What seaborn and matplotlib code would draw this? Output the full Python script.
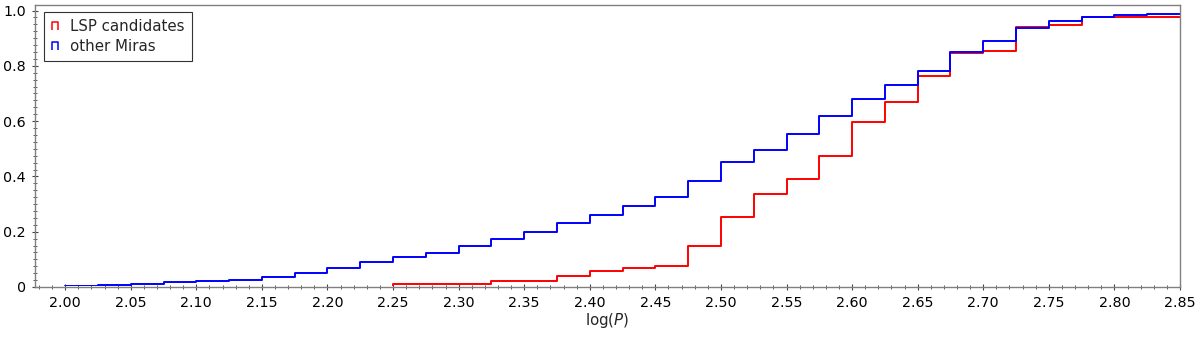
import numpy as np
import pandas as pd
import seaborn as sns
import matplotlib
matplotlib.use("Agg")
import matplotlib.pyplot as plt
from matplotlib.path import Path
from matplotlib.lines import Line2D
from matplotlib.transforms import Bbox, TransformedBbox
from matplotlib.ticker import MultipleLocator, FixedLocator, FuncFormatter, FormatStrFormatter

# ---- data (cumulative fractions per log(P) bin, bin width 0.025) ----
bin_width = 0.025
other_start = 2.000
other_miras = [0.004, 0.007, 0.011, 0.017, 0.022, 0.027, 0.037, 0.049,
               0.068, 0.089, 0.109, 0.123, 0.150, 0.172, 0.200, 0.230,
               0.261, 0.293, 0.324, 0.384, 0.453, 0.494, 0.552, 0.617,
               0.681, 0.730, 0.783, 0.849, 0.890, 0.935, 0.961, 0.976,
               0.983, 0.987]
lsp_start = 2.250
lsp_candidates = [0.012, 0.012, 0.012, 0.020, 0.020, 0.040, 0.059, 0.067,
                  0.075, 0.150, 0.253, 0.337, 0.392, 0.475, 0.595, 0.670,
                  0.764, 0.847, 0.854, 0.940, 0.949, 0.976, 0.976, 0.976]
series_labels = ["LSP candidates", "other Miras"]
series_colors = ["#ff0000", "#0000ff"]
x_ticks = [2.00, 2.05, 2.10, 2.15, 2.20, 2.25, 2.30, 2.35, 2.40, 2.45,
           2.50, 2.55, 2.60, 2.65, 2.70, 2.75, 2.80, 2.85]
y_ticks = [0, 0.2, 0.4, 0.6, 0.8, 1.0]
y_tick_labels = ["0", "0.2", "0.4", "0.6", "0.8", "1.0"]

XMIN, XMAX, YMIN, YMAX = 1.977, 2.85, 0.0, 1.02


def make_frame(start, values):
    # prepend an empty bin so the step rises from zero at the first edge
    n = len(values)
    lefts = start + bin_width * np.arange(-1, n)
    heights = np.concatenate([[0.0], values])
    edges = start + bin_width * np.arange(-1, n + 1)
    return pd.DataFrame({"x": lefts + bin_width / 2, "w": heights}), [float(e) for e in edges]


sns.set_style("white")
plt.rcParams["font.family"] = ["DejaVu Sans"]
plt.rcParams["mathtext.fontset"] = "dejavusans"

fig = plt.figure(figsize=(12, 3.4), dpi=100)
ax = fig.add_axes([35 / 1200, 1 - 287 / 340, (1180 - 35) / 1200, (287 - 5) / 340])

df_r, e_r = make_frame(lsp_start, lsp_candidates)
df_b, e_b = make_frame(other_start, other_miras)

sns.histplot(data=df_r, x="x", weights="w", bins=e_r, element="step",
             fill=False, color=series_colors[0], linewidth=1.4, ax=ax)
sns.histplot(data=df_b, x="x", weights="w", bins=e_b, element="step",
             fill=False, color=series_colors[1], linewidth=1.4, ax=ax)

ax.set_xlim(XMIN, XMAX)
ax.set_ylim(YMIN, YMAX)

# hide the zero-height lead-in segment lying on the bottom axis
clip = TransformedBbox(Bbox([[XMIN, 0.004], [XMAX, YMAX]]), ax.transData)
for ln in ax.lines:
    ln.set_clip_box(clip)

ax.xaxis.set_major_locator(FixedLocator(x_ticks))
ax.xaxis.set_major_formatter(FormatStrFormatter("%.2f"))
ax.xaxis.set_minor_locator(MultipleLocator(0.01))
ax.yaxis.set_major_locator(FixedLocator(y_ticks))
ax.yaxis.set_major_formatter(FuncFormatter(
    lambda v, p: y_tick_labels[y_ticks.index(round(v, 1))] if round(v, 1) in y_ticks else ""))
ax.yaxis.set_minor_locator(MultipleLocator(0.025))

ax.tick_params(axis="both", which="major", direction="inout", length=5,
               width=0.8, color="#444444", labelsize=10.3, labelcolor="black", pad=4)
ax.tick_params(axis="both", which="minor", direction="inout", length=3,
               width=0.6, color="#444444")
ax.tick_params(bottom=True, left=True, top=False, right=False, which="both")

for s in ax.spines.values():
    s.set_color("#808080")
    s.set_linewidth(1.0)

ax.set_xlabel(r"log($P$)", fontsize=10.8, labelpad=0.5)
ax.set_ylabel("")

cap = Path([(-0.7, -1.0), (-0.7, 1.0), (0.7, 1.0), (0.7, -1.0)],
           [Path.MOVETO, Path.LINETO, Path.LINETO, Path.LINETO])
handles = [Line2D([], [], linestyle="none", marker=cap, markersize=5.5,
                  markerfacecolor="none", markeredgecolor=c, markeredgewidth=1.1)
           for c in series_colors]
leg = ax.legend(handles, series_labels, loc="upper left", fontsize=10.8,
                frameon=True, fancybox=False, framealpha=1, edgecolor="#333333",
                handlelength=0.6, handletextpad=0.7, borderpad=0.45,
                labelspacing=0.35, bbox_to_anchor=(0.008, 0.975), borderaxespad=0)
leg.get_frame().set_linewidth(0.8)

fig.savefig("out.png", dpi=100)
